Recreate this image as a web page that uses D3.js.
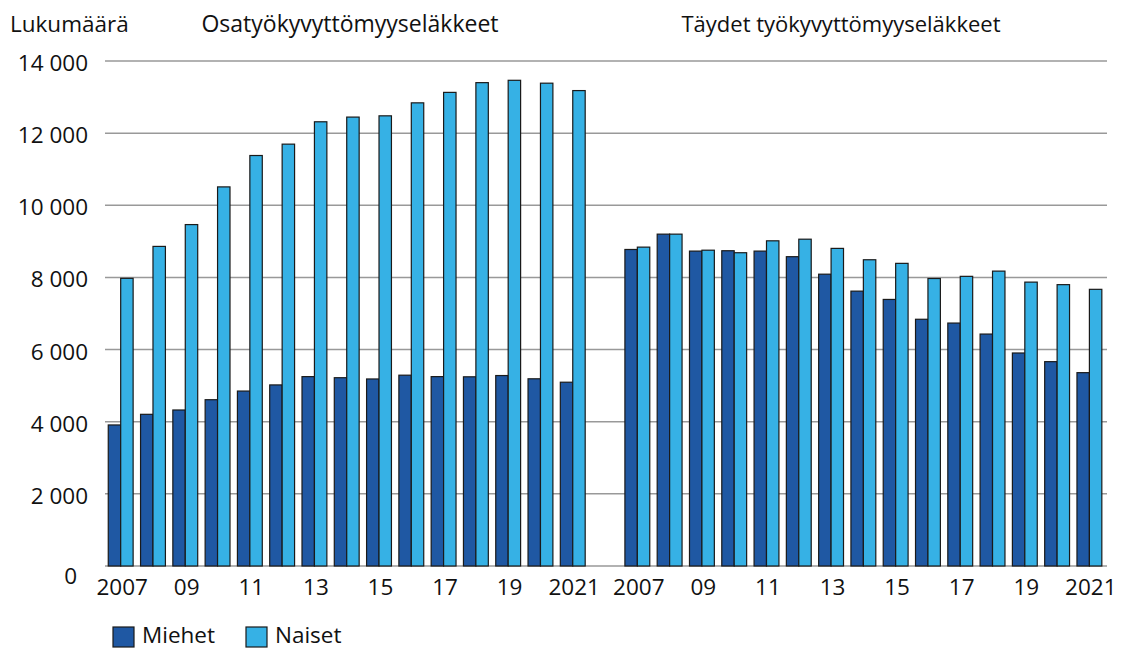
<!DOCTYPE html>
<html>
<head>
<meta charset="utf-8">
<script src="https://cdn.jsdelivr.net/npm/d3@7"></script>
<style>
  body { margin: 0; background: #fff; }
  text { font-family: "Open Sans", sans-serif; fill: #111; }
</style>
</head>
<body>
<svg width="1122" height="650"></svg>
<script>
// years and labels
var years = d3.range(2007, 2022);
var yearLabels = {2007: "2007", 2009: "09", 2011: "11", 2013: "13", 2015: "15", 2017: "17", 2019: "19", 2021: "2021"};
var yTicks = [0, 2000, 4000, 6000, 8000, 10000, 12000, 14000];
var seriesNames = ["Miehet", "Naiset"];
var colors = ["#1f58a3", "#36b1e5"];

// Osatyökyvyttömyyseläkkeet
var osaMiehet = [3910, 4205, 4325, 4610, 4850, 5020, 5250, 5220, 5185, 5290, 5250, 5245, 5280, 5190, 5095];
var osaNaiset = [7975, 8860, 9465, 10510, 11380, 11695, 12315, 12445, 12480, 12840, 13130, 13400, 13465, 13385, 13180];

// Täydet työkyvyttömyyseläkkeet
var taysMiehet = [8775, 9200, 8730, 8740, 8730, 8575, 8090, 7620, 7390, 6840, 6735, 6430, 5905, 5665, 5360];
var taysNaiset = [8840, 9200, 8755, 8685, 9015, 9060, 8805, 8490, 8390, 7970, 8030, 8175, 7870, 7800, 7670];

var svg = d3.select("svg");
var fs = 22.5;

// slots: 15 years, one empty, 15 years
var slots = years.map(d => "o" + d).concat(["gap"]).concat(years.map(d => "t" + d));
var x = d3.scaleBand().domain(slots).range([106, 1107]).padding(0);
var y = d3.scaleLinear().domain([0, 14000]).range([566, 61]);

var step = x.step();
var barW = step * 0.385;
var off = step * 0.07;

// gridlines
svg.append("g")
  .selectAll("line")
  .data(yTicks)
  .enter().append("line")
  .attr("x1", 105).attr("x2", 1107)
  .attr("y1", d => y(d)).attr("y2", d => y(d))
  .attr("stroke", "#999").attr("stroke-width", 1.5);

// y labels (the 0 sits lower and further left)
svg.append("g")
  .selectAll("text")
  .data(yTicks)
  .enter().append("text")
  .attr("x", d => d === 0 ? 77 : 88)
  .attr("y", d => d === 0 ? y(d) + 18 : y(d) + 10)
  .attr("text-anchor", "end")
  .attr("font-size", fs)
  .text(d => d === 0 ? "0" : d3.format(",")(d).replace(/,/g, " "));

// bars data
var bars = [];
years.forEach(function(yr, i) {
  bars.push({slot: "o" + yr, s: 0, v: osaMiehet[i]});
  bars.push({slot: "o" + yr, s: 1, v: osaNaiset[i]});
  bars.push({slot: "t" + yr, s: 0, v: taysMiehet[i]});
  bars.push({slot: "t" + yr, s: 1, v: taysNaiset[i]});
});

svg.append("g")
  .selectAll("rect")
  .data(bars)
  .enter().append("rect")
  .attr("x", d => x(d.slot) + off + d.s * barW)
  .attr("width", barW)
  .attr("y", d => y(d.v))
  .attr("height", d => y(0) - y(d.v))
  .attr("fill", d => colors[d.s])
  .attr("stroke", "#1a1a1a")
  .attr("stroke-width", 1.2);

// x labels
var xl = [];
years.forEach(function(yr) {
  if (yearLabels[yr]) {
    xl.push({slot: "o" + yr, t: yearLabels[yr]});
    xl.push({slot: "t" + yr, t: yearLabels[yr]});
  }
});
svg.append("g")
  .selectAll("text")
  .data(xl)
  .enter().append("text")
  .attr("x", d => x(d.slot) + step / 2)
  .attr("y", 595)
  .attr("text-anchor", "middle")
  .attr("font-size", fs)
  .text(d => d.t);

// titles
svg.append("text").attr("x", 10).attr("y", 32).attr("font-size", fs).text("Lukumäärä");
svg.append("text").attr("x", 350).attr("y", 32).attr("text-anchor", "middle").attr("font-size", 23).text("Osatyökyvyttömyyseläkkeet");
svg.append("text").attr("x", 841).attr("y", 32).attr("text-anchor", "middle").attr("font-size", 22).text("Täydet työkyvyttömyyseläkkeet");

// legend
var legX = [113, 246];
var leg = svg.append("g").selectAll("g")
  .data(seriesNames)
  .enter().append("g")
  .attr("transform", (d, i) => "translate(" + legX[i] + ",627)");
leg.append("rect")
  .attr("width", 21).attr("height", 20)
  .attr("fill", (d, i) => colors[i])
  .attr("stroke", "#1a1a1a").attr("stroke-width", 1.2);
leg.append("text")
  .attr("x", 29).attr("y", 16)
  .attr("font-size", fs)
  .text(d => d);
</script>
</body>
</html>
